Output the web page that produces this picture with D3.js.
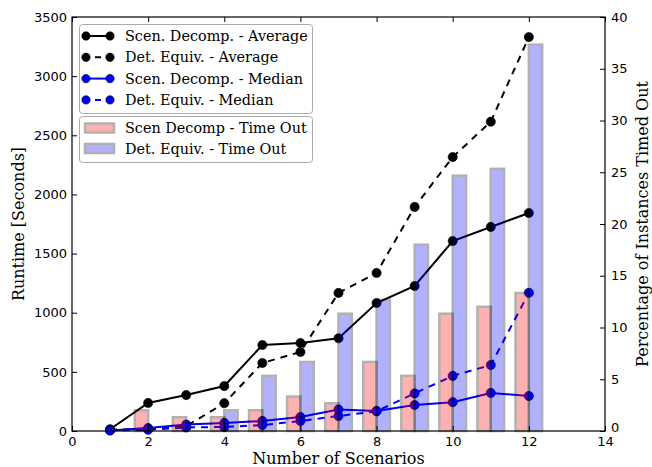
<!DOCTYPE html>
<html>
<head>
<meta charset="utf-8">
<script src="https://cdn.jsdelivr.net/npm/d3@7"></script>
<style>
  html, body { margin: 0; padding: 0; background: #fff; }
  svg { display: block; }
  .tick text { font-family: "DejaVu Sans", sans-serif; font-size: 13px; fill: #000; }
  .domain { display: none; }
  .tick line { stroke: #000; stroke-width: 1; }
</style>
</head>
<body>
<svg id="chart" width="652" height="467"></svg>
<script>
// Number of scenarios per experiment
const scenarios = [1, 2, 3, 4, 5, 6, 7, 8, 9, 10, 11, 12];

// Runtime in seconds (left axis)
const scenDecompAvg = [15, 237, 304, 380, 727, 744, 784, 1082, 1226, 1606, 1725, 1843];
const detEquivAvg   = [10, 20, 40, 235, 575, 668, 1167, 1336, 1894, 2316, 2615, 3330];
const scenDecompMed = [5, 25, 55, 68, 85, 118, 182, 170, 220, 244, 322, 296];
const detEquivMed   = [5, 10, 30, 34, 50, 85, 127, 166, 318, 466, 558, 1168];

// Percentage of instances timed out (right axis)
const scenDecompTimeout = [0, 2.0, 1.33, 1.33, 2.0, 3.33, 2.67, 6.67, 5.33, 11.33, 12.0, 13.33];
const detEquivTimeout   = [0, 0, 0, 2.0, 5.33, 6.67, 11.33, 12.67, 18.0, 24.67, 25.33, 37.33];

// Axis ticks
const xTicks = [0, 2, 4, 6, 8, 10, 12, 14];
const yLeftTicks = [0, 500, 1000, 1500, 2000, 2500, 3000, 3500];
const yRightTicks = [0, 5, 10, 15, 20, 25, 30, 35, 40];

const lineSeries = [
  { name: "Scen. Decomp. - Average", values: scenDecompAvg, color: "#000", dash: null },
  { name: "Det. Equiv. - Average",   values: detEquivAvg,   color: "#000", dash: "7,6" },
  { name: "Scen. Decomp. - Median",  values: scenDecompMed, color: "#0000ff", dash: null },
  { name: "Det. Equiv. - Median",    values: detEquivMed,   color: "#0000ff", dash: "7,6" }
];
const barSeries = [
  { name: "Scen Decomp - Time Out", values: scenDecompTimeout, color: "#ff0000", offset: -0.35 },
  { name: "Det. Equiv. - Time Out", values: detEquivTimeout,   color: "#0000ff", offset: 0 }
];

const L = 72, R = 605, T = 17, B = 431;
const svg = d3.select("#chart");

const x = d3.scaleLinear().domain([0, 14]).range([L, R]);
const yL = d3.scaleLinear().domain([0, 3500]).range([B, T]);
const yR = d3.scaleLinear().domain([0, 40]).range([B, T]);
const barW = 0.35;

// Lines with markers (primary axes)
const lineG = svg.append("g");
lineSeries.forEach(s => {
  const pts = scenarios.map((c, i) => [c, s.values[i]]);
  lineG.append("path")
    .datum(pts)
    .attr("fill", "none")
    .attr("stroke", s.color)
    .attr("stroke-width", 2)
    .attr("stroke-dasharray", s.dash)
    .attr("d", d3.line().x(d => x(d[0])).y(d => yL(d[1])));
  lineG.selectAll(null)
    .data(pts)
    .enter().append("circle")
    .attr("cx", d => x(d[0]))
    .attr("cy", d => yL(d[1]))
    .attr("r", 4.6)
    .attr("fill", s.color)
    .attr("stroke", "#000")
    .attr("stroke-width", 0.6);
});

// Primary legend
const leg1 = svg.append("g");
leg1.append("rect")
  .attr("x", 79.5).attr("y", 24.5).attr("width", 233).attr("height", 89)
  .attr("rx", 3).attr("fill", "#fff").attr("stroke", "#aaa").attr("stroke-width", 1);
lineSeries.forEach((s, i) => {
  const cy = 36 + i * 21.3;
  leg1.append("line")
    .attr("x1", 86).attr("x2", 110).attr("y1", cy).attr("y2", cy)
    .attr("stroke", s.color).attr("stroke-width", 2)
    .attr("stroke-dasharray", s.dash ? "0,9,6,9" : null);
  [86, 110].forEach(cx => leg1.append("circle")
    .attr("cx", cx).attr("cy", cy).attr("r", 4.2)
    .attr("fill", s.color).attr("stroke", "#000").attr("stroke-width", 0.6));
  leg1.append("text")
    .attr("x", 125).attr("y", cy).attr("dy", "0.35em")
    .attr("font-family", "DejaVu Serif, serif").attr("font-size", 14.4)
    .text(s.name);
});

// Timeout bars (secondary axes, drawn on top, translucent)
const barG = svg.append("g");
barSeries.forEach(s => {
  barG.selectAll(null)
    .data(scenarios.map((c, i) => [c, s.values[i]]))
    .enter().append("rect")
    .attr("x", d => x(d[0] + s.offset))
    .attr("y", d => yR(d[1]))
    .attr("width", x(barW) - x(0))
    .attr("height", d => yR(0) - yR(d[1]))
    .attr("fill", s.color)
    .attr("stroke", "#000").attr("stroke-width", 2.5)
    .attr("opacity", 0.3);
});

// Secondary legend
const leg2 = svg.append("g");
leg2.append("rect")
  .attr("x", 79.5).attr("y", 116.5).attr("width", 233).attr("height", 46)
  .attr("rx", 3).attr("fill", "#fff").attr("stroke", "#aaa").attr("stroke-width", 1);
barSeries.forEach((s, i) => {
  const cy = 128 + i * 20.5;
  leg2.append("rect")
    .attr("x", 85).attr("y", cy - 4.5).attr("width", 29).attr("height", 9)
    .attr("fill", s.color)
    .attr("stroke", "#000").attr("stroke-width", 2.5)
    .attr("opacity", 0.3);
  leg2.append("text")
    .attr("x", 125).attr("y", cy).attr("dy", "0.35em")
    .attr("font-family", "DejaVu Serif, serif").attr("font-size", 14.4)
    .text(s.name);
});

// Frame
svg.append("rect")
  .attr("x", L).attr("y", T).attr("width", R - L).attr("height", B - T)
  .attr("fill", "none").attr("stroke", "#000").attr("stroke-width", 1.2);

// Axes with inward ticks
svg.append("g").attr("transform", `translate(0,${B})`)
  .call(d3.axisBottom(x).tickValues(xTicks).tickFormat(d3.format("d")).tickSize(-5).tickPadding(6));
svg.append("g").attr("transform", `translate(0,${T})`)
  .call(d3.axisTop(x).tickValues(xTicks).tickFormat("").tickSize(-5));
svg.append("g").attr("transform", `translate(${L},0)`)
  .call(d3.axisLeft(yL).tickValues(yLeftTicks).tickFormat(d3.format("d")).tickSize(-5).tickPadding(5));
const rightAxis = svg.append("g").attr("transform", `translate(${R},0)`)
  .call(d3.axisRight(yR).tickValues(yRightTicks).tickFormat(d3.format("d")).tickSize(-5).tickPadding(6));
// lift the corner "0" a little so it clears the "14" below it
rightAxis.selectAll(".tick").filter(d => d === 0).select("text").attr("dy", "0.05em");

// Axis titles
svg.append("text")
  .attr("x", (L + R) / 2).attr("y", 464)
  .attr("text-anchor", "middle")
  .attr("font-family", "DejaVu Serif, serif").attr("font-size", 16)
  .text("Number of Scenarios");
svg.append("text")
  .attr("transform", `translate(24,${(T + B) / 2}) rotate(-90)`)
  .attr("text-anchor", "middle")
  .attr("font-family", "DejaVu Serif, serif").attr("font-size", 16)
  .text("Runtime [Seconds]");
svg.append("text")
  .attr("transform", `translate(648,${(T + B) / 2}) rotate(-90)`)
  .attr("text-anchor", "middle")
  .attr("font-family", "DejaVu Serif, serif").attr("font-size", 16)
  .text("Percentage of Instances Timed Out");
</script>
</body>
</html>
